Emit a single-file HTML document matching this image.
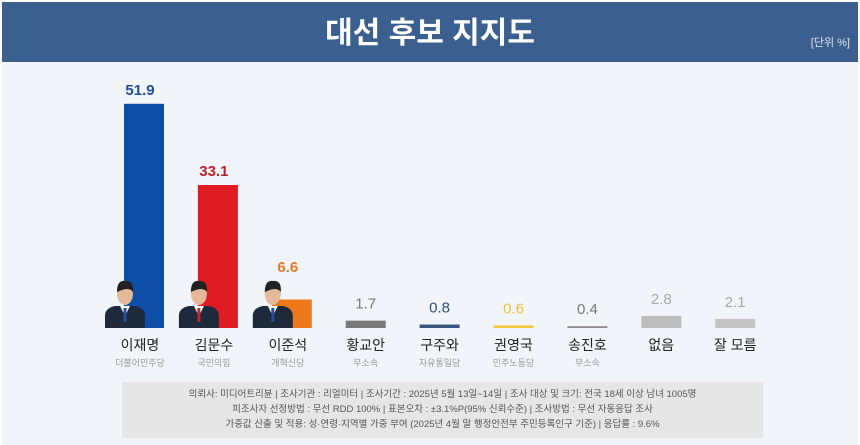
<!DOCTYPE html>
<html><head><meta charset="utf-8"><style>
body{margin:0;width:860px;height:445px;overflow:hidden;background:#fff;font-family:"Liberation Sans","Noto Sans CJK KR",sans-serif}
#hdr{position:absolute;left:2px;top:2px;width:856px;height:60px;background:#3b5f8e}
#title{position:absolute;left:0;width:860px;top:8px;text-align:center;color:#fff;font-size:30px;font-weight:bold}
#unit{position:absolute;right:10px;top:34px;color:#dde4ee;font-size:11px}
#bg{position:absolute;left:2px;top:62px;width:856px;height:383px;background:#f1f4f9}
</style></head><body>
<div id="hdr"></div>
<div id="bg"></div>
<div id="title">대선 후보 지지도</div>
<div id="unit">[단위 %]</div>
<svg id="chart" width="860" height="445" style="position:absolute;left:0;top:0"></svg>
<script>
const names=["이재명","김문수","이준석","황교안","구주와","권영국","송진호","없음","잘 모름"];
const parties=["더불어민주당","국민의힘","개혁신당","무소속","자유통일당","민주노동당","무소속","",""];
const values=[51.9,33.1,6.6,1.7,0.8,0.6,0.4,2.8,2.1];
const labelColors=["#1f4f9a","#b8222a","#e07a1f","#777","#2e4f7a","#e9c43a","#777","#aaa","#aaa"];
const barColors=["#0f4ea8","#e01b23","#ec7a1c","#7a7a7a","#36557f","#f0c93a","#8a8a8a","#bdbdbd","#c4c4c4"];
const svg=document.getElementById('chart');const NS="http://www.w3.org/2000/svg";
const base=328,scale=4.32;
function cx(i){return 144+i*73.9;}
function y(v){return base-Math.max(v*scale,1.8);}
function mk(t,a){const e=document.createElementNS(NS,t);for(const k in a)e.setAttribute(k,a[k]);svg.appendChild(e);return e;}
values.forEach((v,i)=>{
 const big=i<3;
 const r=mk('rect',{x:cx(i)-20,y:y(v),width:40,height:base-y(v),fill:barColors[i]});
 
 
 if(big){
  const px=cx(i)-39;
  const g=document.createElementNS(NS,'g');svg.appendChild(g);
  
  
  g.innerHTML=`<path d="M${px} ${base} L${px} ${base-12} Q${px} ${base-20} ${px+10} ${base-22} L${px+30} ${base-22} Q${px+40} ${base-20} ${px+40} ${base-12} L${px+40} ${base} Z" fill="#1e2a3c"/>
<path d="M${px+15} ${base-22} L${px+20} ${base-12} L${px+25} ${base-22} Z" fill="#fff"/>
<rect x="${px+18.5}" y="${base-20}" width="3" height="14" fill="${i==1?'#c22':'#2a4d9a'}"/>
<ellipse cx="${px+20}" cy="${base-34}" rx="8" ry="11" fill="#e2b99a"/>
<path d="M${px+12} ${base-36} Q${px+12} ${base-48} ${px+20} ${base-47} Q${px+29} ${base-48} ${px+28} ${base-36} Q${px+24} ${base-42} ${px+12} ${base-36}Z" fill="#222"/>`;
 }
 const ty=big?Math.min(y(v)-9,base-56):y(v)-12;
 const t=mk('text',{x:cx(i)-(big?4:0),y:ty,'text-anchor':'middle','font-size':'15',fill:labelColors[i],'font-weight':big?'bold':'normal'});
 t.textContent=v.toFixed(1);
 
 
 const n=mk('text',{x:cx(i)-(big?4:0),y:350,'text-anchor':'middle','font-size':'14',fill:'#222'});
 n.textContent=names[i];
 
 
 if(parties[i]){const p=mk('text',{x:cx(i)-(big?4:0),y:366,'text-anchor':'middle','font-size':'9',fill:'#999'});
 p.textContent=parties[i];
 
 }
});
</script>
<div style="position:absolute;left:122px;top:382px;width:641px;height:56px;background:#e6e6e6;color:#555;font-size:9.5px;line-height:15px;text-align:center;padding-top:5px;box-sizing:border-box">의뢰사: 미디어트리뷴 | 조사기관 : 리얼미터 | 조사기간 : 2025년 5월 13일~14일 | 조사 대상 및 크기: 전국 18세 이상 남녀 1005명<br>피조사자 선정방법 : 무선 RDD 100% | 표본오차 : ±3.1%P(95% 신뢰수준) | 조사방법 : 무선 자동응답 조사<br>가중값 산출 및 적용: 성·연령·지역별 가중 부여 (2025년 4월 말 행정안전부 주민등록인구 기준) | 응답률 : 9.6%</div>
</body></html>
